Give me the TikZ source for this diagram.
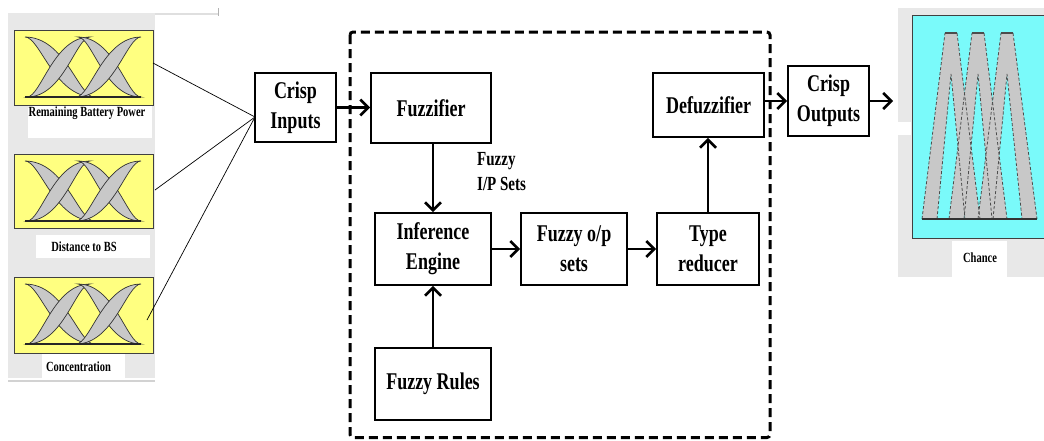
\documentclass[tikz,border=0pt]{standalone}
\usepackage{fontspec}
\usetikzlibrary{arrows.meta}
\newfontfamily\lbl{Liberation Serif}[FakeStretch=0.75]
\definecolor{mfyellow}{RGB}{255,255,128}
\definecolor{mfcyan}{RGB}{122,250,250}
\definecolor{bandgray}{RGB}{200,200,200}
\definecolor{panelgray}{RGB}{232,232,232}
\tikzset{
  block/.style={draw=black, line width=1.8pt, fill=white, align=center,
    font=\lbl\bfseries\fontsize{24}{30}\selectfont, inner sep=0pt},
  flow/.style={line width=2.6pt, -{Straight Barb[length=8pt,width=16pt]}},
  feed/.style={line width=0.7pt, black},
  mfbox/.style={draw=black!75, line width=1pt, fill=mfyellow, inner sep=0pt},
  caption/.style={fill=white, inner sep=0pt, font=\lbl\bfseries\fontsize{14}{16}\selectfont},
  band/.style={fill=bandgray, draw=black!80, line width=0.7pt},
  tband/.style={fill=bandgray},
  tedge/.style={draw=black!70, line width=0.8pt, dash pattern=on 3pt off 2pt},
}
% one sigmoid uncertainty band (two shifted S-curves) from (#1,#2) to (#3,#4)
\newcommand\foublade[4]{%
  \path[band] (#1,#2) .. controls ({#1+0.58*(#3-#1)},#2) and ({#3-0.22*(#3-#1)},#4) .. (#3,#4)
    .. controls ({#3-0.58*(#3-#1)},#4) and ({#1+0.22*(#3-#1)},#2) .. (#1,#2) -- cycle;}
% three interval type-2 membership functions drawn inside an input box
\newcommand\inputmfs{%
  \foublade{25}{7}{94}{67}
  \foublade{27}{67}{90}{7}
  \foublade{78}{7}{141}{67}
  \foublade{76}{67}{141}{7}
  \draw[black!85, line width=1.2pt] (25,67) -- (141,67);}
\begin{document}
\begin{tikzpicture}[x=1pt,y=-1pt]
\useasboundingbox (0,0) rectangle (1044,440);

% ---------- input membership functions ----------
\fill[panelgray] (8,13) rectangle (155,378);
\draw[gray!35, line width=1.5pt] (8,381) -- (155,381);
\draw[gray!25, line width=1.5pt] (155,14) -- (218,14);
\draw[gray!60, line width=1pt] (218,8) -- (218,16);

\node[mfbox, minimum width=139pt, minimum height=75pt] (mf1) at (83.5,67.5) {};
\node[mfbox, minimum width=139pt, minimum height=74pt] (mf2) at (83.5,191) {};
\node[mfbox, minimum width=139pt, minimum height=76pt] (mf3) at (83.5,315) {};
\begin{scope}[shift={(0,30)}]\inputmfs\end{scope}
\begin{scope}[shift={(0,154)}]\inputmfs\end{scope}
\begin{scope}[shift={(0,277)}]\inputmfs\end{scope}

\fill[white] (28,106) rectangle (152,138);
\fill[white] (36,235) rectangle (150,258);
\fill[white] (42,354) rectangle (125,378);
\node[caption] (c1) at (87,113) {Remaining Battery Power};
\node[caption] (c2) at (84,247) {Distance to BS};
\node[caption] (c3) at (78.5,367) {Concentration};

% ---------- processing chain ----------
\node[block, minimum width=81pt, minimum height=69pt] (ci) at (295.5,107.5) {Crisp\\Inputs};
\coordinate (join) at (255,117);
\coordinate (s1) at (153,63);
\coordinate (s2) at (155,190);
\coordinate (s3) at (147,320);
\draw[feed] (s1) -- (join);
\draw[feed] (s2) -- (join);
\draw[feed] (s3) -- (join);

\draw[line width=3pt, dash pattern=on 9pt off 5pt, rounded corners=3pt]
  (350,32) rectangle (770,437.5);

\node[block, minimum width=120pt, minimum height=70pt] (fz) at (431,108) {Fuzzifier};
\node[block, minimum width=116pt, minimum height=72pt] (ie) at (433,249) {Inference\\Engine};
\node[block, minimum width=106pt, minimum height=72pt] (fo) at (574,249) {Fuzzy o/p\\sets};
\node[block, minimum width=102pt, minimum height=72pt] (tr) at (708,249) {Type\\reducer};
\node[block, minimum width=111pt, minimum height=64pt] (df) at (708.5,105) {Defuzzifier};
\node[block, minimum width=116pt, minimum height=72pt] (fr) at (433,384) {Fuzzy Rules};
\node[block, minimum width=81pt, minimum height=70pt] (co) at (828.5,101) {Crisp\\Outputs};
\node[anchor=north west, align=left, inner sep=0pt,
  font=\lbl\bfseries\fontsize{20}{25}\selectfont] (fips) at (477,152) {Fuzzy\\I/P Sets};

\draw[flow] (ci.east) -- (ci.east -| fz.west);
\draw[flow] (fz.south -| ie.north) -- (ie.north);
\draw[flow] (fr.north) -- (ie.south);
\draw[flow] (ie.east) -- (fo.west);
\draw[flow] (fo.east) -- (tr.west);
\draw[flow] (tr.north) -- (tr.north |- df.south);
\draw[flow] (co.west -| df.east) -- (co.west);

% ---------- output membership functions ----------
\fill[panelgray] (898,8) rectangle (1044,277);
\fill[white] (896,122) rectangle (911,135);
\node[draw=black!75, line width=1pt, fill=mfcyan, inner sep=0pt,
  minimum width=134pt, minimum height=223pt] (chance) at (979,126.5) {};
\coordinate (outin) at (893,101);
\draw[flow] (co.east) -- (outin);

% triangular bands: outer trapezoid minus inner triangle
\foreach \a/\l/\r in {951/922/980, 978/949/1007, 1007/978/1037} {
  \path[tband, even odd rule]
    (\l,219) -- ({\a-6},33) -- ({\a+6},33) -- (\r,219) -- cycle
    ({\l+15},219) -- (\a,74) -- ({\r-15},219) -- cycle;
}
\foreach \a/\l/\r in {951/922/980, 978/949/1007, 1007/978/1037} {
  \path[tedge] (\l,219) -- ({\a-6},33);
  \path[tedge] ({\a+6},33) -- (\r,219);
  \path[tedge] ({\l+15},219) -- (\a,74) -- ({\r-15},219);
  \draw[black!70, line width=1.5pt] ({\a-6},33) -- ({\a+6},33);
}
\draw[black!80, line width=1.2pt] (922,219) -- (1037,219);

\fill[white] (952,241) rectangle (1007,277);
\node[caption] (c4) at (980,258) {Chance};
\end{tikzpicture}
\end{document}
